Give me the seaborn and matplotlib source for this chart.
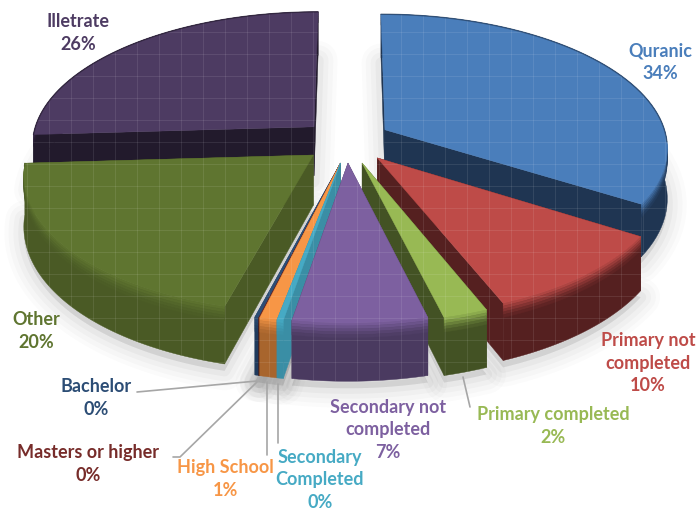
import numpy as np
import matplotlib
matplotlib.use("Agg")
import matplotlib.pyplot as plt
import seaborn as sns
from matplotlib.patches import Polygon
from matplotlib.collections import LineCollection

categories = ["Quranic", "Primary not\ncompleted", "Primary completed", "Secondary not\ncompleted",
              "Secondary\nCompleted", "High School", "Masters or higher", "Bachelor", "Other", "Illetrate"]
values = [34, 10, 2.2, 6.6, 0.31, 0.85, 0.05, 0.2, 20, 26]
top_colors = ["#4A7EBB", "#BE4B48", "#98B954", "#7D60A0", "#46AAC4", "#F79646", "#772C2A", "#2C4D75", "#5F7530", "#4D3B62"]
side_colors = ["#1F3552", "#552020", "#435224", "#4A3A60", "#3A8EA5", "#A8652D", "#4A1A18", "#1F3A5C", "#4A5A25", "#221A2C"]
label_colors = ["#4A7EBB", "#BE4B48", "#98B954", "#7D60A0", "#46AAC4", "#F79646", "#772C2A", "#2C4D75", "#5F7530", "#4D3B62"]
# world-space explosion of every slice (x, y in pie radii)
explode_x = [0.125, 0.095, 0.042, -0.007, -0.033, -0.033, -0.033, -0.033, -0.128, -0.129]
explode_y = [0.152, -0.058, -0.095, -0.095, -0.095, -0.095, -0.095, -0.095, -0.037, 0.175]

label_x = [660, 648, 553, 388, 320, 225, 88, 96, 36, 78]
label_y = [62, 363, 426, 430, 480, 479, 464, 398, 331, 33]
leaders = [[(463, 377), (470, 407)], [(278, 384), (278, 443)], [(267, 382), (267, 455)],
           [(257, 382), (180, 457), (173, 457)], [(257, 381), (137, 392)]]

CX, CY, RX, TY, K, H = 350, 150, 285, 135.5, 0.13, 50

sns.set_theme(style="white")
plt.rcParams["font.family"] = ["Lato", "DejaVu Sans"]
fig, ax = plt.subplots(figsize=(6.99, 5.14), dpi=100)
fig.subplots_adjust(0, 0, 1, 1)
ax.set_xlim(0, 699); ax.set_ylim(514, 0); ax.axis("off")


def project(x, y, z=0.0):
    w = 1 + K * np.asarray(y, float)
    return np.column_stack([CX + RX * np.asarray(x, float) / w,
                            CY - TY * np.asarray(y, float) / w + z * H / w])


def mix(c1, c2, t):
    a, b = np.array(matplotlib.colors.to_rgb(c1)), np.array(matplotlib.colors.to_rgb(c2))
    return tuple(a + (b - a) * t)


zc = [10]


def next_z():
    zc[0] += 1
    return zc[0]


GX = np.arange(5, 699, 22)
GY = np.arange(10, 514, 22)
grid_segs = [[(x, 0), (x, 514)] for x in GX] + [[(0, y), (699, y)] for y in GY]


def face(pts, color):
    p = Polygon(pts, closed=True, fc=color, ec=color, lw=0.3, zorder=next_z())
    ax.add_patch(p)
    return p


def add_grid(p):
    lc = LineCollection(grid_segs, colors="white", linewidths=0.8, alpha=0.09, zorder=next_z())
    ax.add_collection(lc)
    lc.set_clip_path(p)


total = sum(values)
edges = np.concatenate([[0], np.cumsum(values)]) / total * 2 * np.pi
order = [9, 0, 8, 1, 2, 7, 6, 5, 4, 3]

# soft shadow below the pie
for lw, al in [(28, 0.015), (22, 0.018), (15, 0.025), (8, 0.03)]:
    for i in range(len(values)):
        th = np.linspace(edges[i], edges[i + 1], 40)
        x = np.r_[explode_x[i], explode_x[i] + np.sin(th)]
        y = np.r_[explode_y[i], explode_y[i] + np.cos(th)]
        ax.add_patch(Polygon(project(x, y, 1.12), closed=True, fc="black", ec="black", lw=lw,
                             alpha=al, zorder=1, joinstyle="round"))

for i in order:
    th = np.linspace(edges[i], edges[i + 1], 60)
    ex, ey = explode_x[i], explode_y[i]
    ax_, ay_ = ex + np.sin(th), ey + np.cos(th)
    top, side = top_colors[i], side_colors[i]
    tip_t = project([ex], [ey])[0]
    tip_b = project([ex], [ey], 1)[0]
    arc_t = project(ax_, ay_)
    arc_b = project(ax_, ay_, 1)
    # cut faces
    for k in (0, -1):
        q = np.array([tip_t, arc_t[k], arc_b[k], tip_b])
        add_grid(face(q, side))
    # outer wall with bevel bands
    wall = np.vstack([arc_t, arc_b[::-1]])
    pw = face(wall, side)
    for t0, t1, f in [(0.0, 0.05, 0.15), (0.05, 0.1, 0.35), (0.1, 0.15, 0.55), (0.15, 0.2, 0.75), (0.2, 0.25, 0.9)]:
        a = project(ax_, ay_, t0)
        b = project(ax_, ay_, t1)
        face(np.vstack([a, b[::-1]]), mix(top, side, f))
    add_grid(pw)
    # top face
    pt = face(np.vstack([tip_t, arc_t]), top)
    add_grid(pt)
    far = np.cos(th) > -0.1
    if far.any():
        ax.plot(arc_t[far, 0], arc_t[far, 1], color=side, lw=1.0, alpha=0.6, zorder=next_z())

for seg in leaders:
    xs, ys = zip(*seg)
    ax.plot(xs, ys, color="#A6A6A6", lw=1.2, zorder=next_z())

for name, v, x, y, c in zip(categories, values, label_x, label_y, label_colors):
    ax.text(x, y, f"{name}\n{round(v)}%", color=c, fontsize=13, fontweight="bold", ha="center",
            va="center", linespacing=1.42, zorder=next_z())

fig.savefig("out.png", dpi=100)
